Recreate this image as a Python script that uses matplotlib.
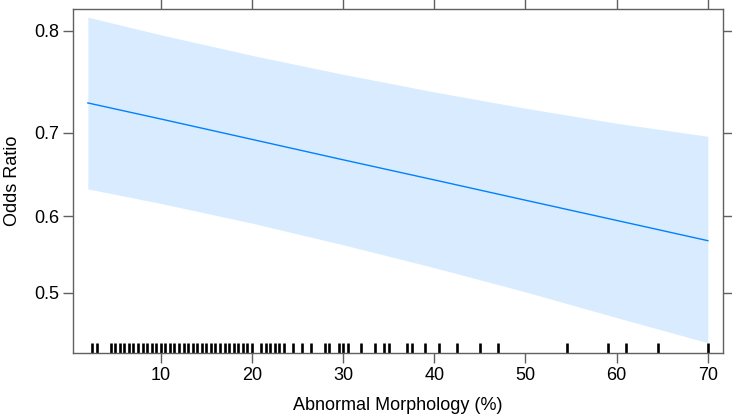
"""
Grafica de efecto: morfologia anormal vs odds ratio (escala logit),
con banda de confianza y rug de observaciones.
"""

import matplotlib
matplotlib.use("Agg")
import matplotlib.pyplot as plt
from matplotlib.ticker import NullLocator, FixedLocator

# valores
morfologia = [2, 10, 20, 30, 40, 50, 60, 70]
ajuste = [0.732, 0.715, 0.6925, 0.669, 0.645, 0.620, 0.5945, 0.5684]
limite_inf = [0.634, 0.616, 0.591, 0.563, 0.533, 0.501, 0.467, 0.434]
limite_sup = [0.8114, 0.7967, 0.7785, 0.7607, 0.7433, 0.7265, 0.7104, 0.696]

# observaciones (rug)
observaciones = [
    2.5, 3.0,
    4.5, 5.0, 5.5, 6.0, 6.5, 7.0, 7.5, 8.0, 8.5, 9.0, 9.5, 10.0,
    10.5, 11.0, 11.5, 12.0, 12.5, 13.0, 13.5, 14.0, 14.5, 15.0,
    15.5, 16.0, 16.5, 17.0, 17.5, 18.0, 18.5, 19.0, 19.5, 20.0,
    21.0, 21.5, 22.0, 22.5, 23.0, 23.5, 24.5, 25.5, 26.5, 28.0,
    28.5, 29.5, 30.0, 30.5, 32.0, 33.5, 34.5, 35.0, 37.0, 37.5,
    39.0, 40.5, 42.5, 45.0, 47.0, 54.5, 59.0, 61.0, 64.5, 70.0,
]

ticks_x = [10, 20, 30, 40, 50, 60, 70]
ticks_y = [0.5, 0.6, 0.7, 0.8]
etiquetas_y = ["0.5", "0.6", "0.7", "0.8"]

LINEA = "#0080FF"
MARCO = "#606060"


def main() -> None:
    plt.rcParams["font.family"] = ["Liberation Sans", "DejaVu Sans"]
    fig = plt.figure(figsize=(7.32, 4.18), dpi=100)
    ax = fig.add_axes([0.0997, 0.1548, 0.8876, 0.823])

    ax.fill_between(morfologia, limite_inf, limite_sup, color=LINEA, alpha=0.15, lw=0)
    ax.plot(morfologia, ajuste, color=LINEA, lw=1.0)

    ax.vlines(observaciones, 0, 0.03, transform=ax.get_xaxis_transform(),
              color="black", lw=1.9)

    ax.set_yscale("logit")
    ax.set_ylim(0.4204, 0.8177)
    ax.set_xlim(0.37, 71.63)
    ax.yaxis.set_major_locator(FixedLocator(ticks_y))
    ax.yaxis.set_minor_locator(NullLocator())
    ax.set_yticks(ticks_y)
    ax.set_yticklabels(etiquetas_y)
    ax.set_xticks(ticks_x)
    ax.set_xticklabels([str(t) for t in ticks_x])

    for s in ax.spines.values():
        s.set_color(MARCO)
        s.set_linewidth(1.0)
    ax.tick_params(axis="both", which="major", direction="out", length=7,
                   width=1.0, color=MARCO, labelsize=13, pad=3,
                   top=True, right=True, labeltop=False, labelright=False)

    ax.set_xlabel("Abnormal Morphology (%)", fontsize=13, labelpad=9)
    ax.set_ylabel("Odds Ratio", fontsize=13, labelpad=9)

    fig.savefig("out.png", dpi=100)
    plt.close(fig)


if __name__ == "__main__":
    main()
